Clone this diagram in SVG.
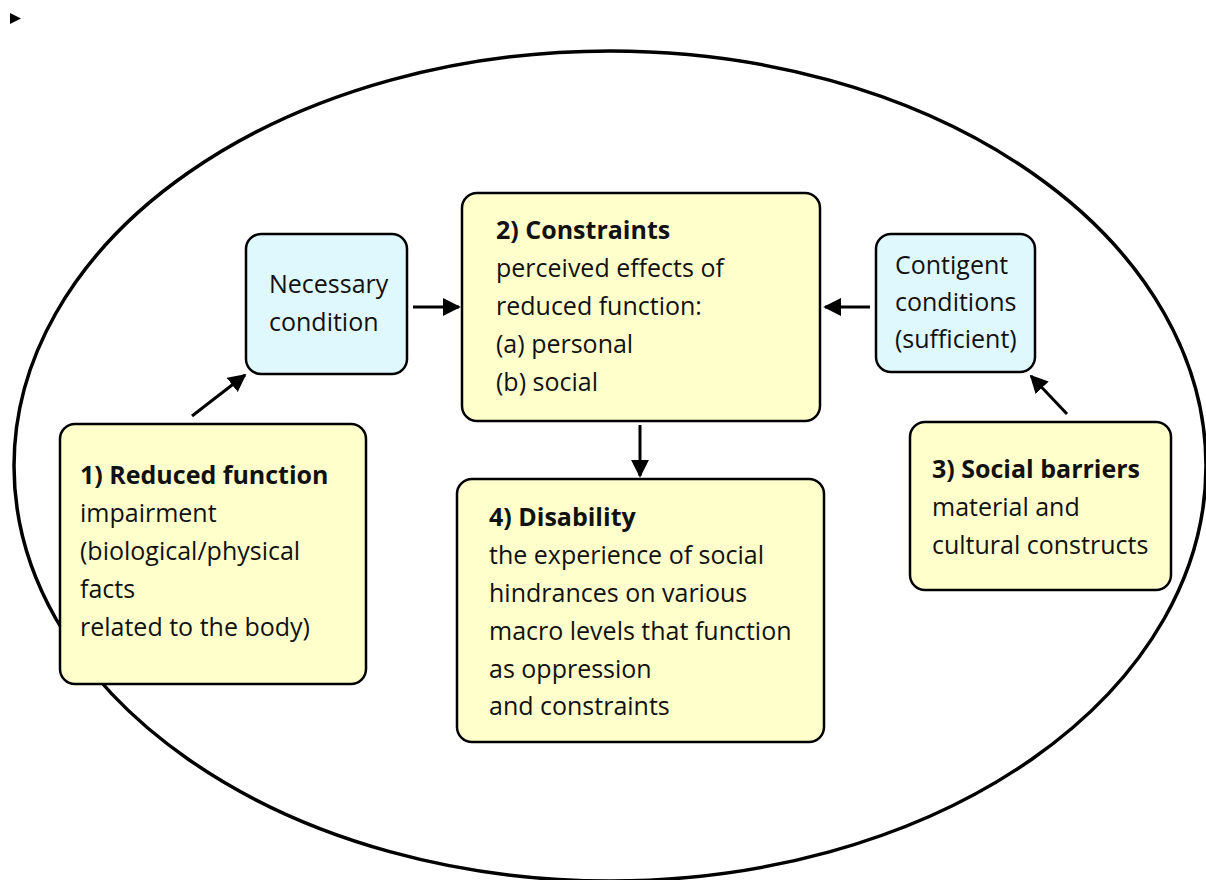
<svg xmlns="http://www.w3.org/2000/svg" width="1206" height="880" viewBox="0 0 1206 880">
<defs>
<style>
.t{font-family:"Open Sans","Noto Sans","DejaVu Sans",sans-serif;font-size:25px;fill:#111}
.b{font-weight:bold}
.y{fill:#ffffcc;stroke:#000;stroke-width:2.5}
.c{fill:#dff8fd;stroke:#000;stroke-width:2.5}
</style>
<marker id="ah" viewBox="0 0 10 10" refX="9" refY="5" markerWidth="6" markerHeight="6" markerUnits="strokeWidth" orient="auto">
<path d="M0,0 L10,5 L0,10 z" fill="#000"/>
</marker>
</defs>
<rect width="1206" height="880" fill="#fff"/>
<polygon points="10,13 10,24 21,18.5" fill="#000"/>
<ellipse cx="610" cy="466" rx="596" ry="415" fill="none" stroke="#000" stroke-width="3.5"/>
<g id="n-necessary">
<rect class="c" x="246" y="234" width="161" height="140" rx="15"/>
<text class="t" x="269" y="293">Necessary</text>
<text class="t" x="269" y="331">condition</text>
</g>
<g id="n-constraints">
<rect class="y" x="462" y="193" width="358" height="228" rx="15"/>
<text class="t b" x="496" y="239">2) Constraints</text>
<text class="t" x="496" y="277">perceived effects of</text>
<text class="t" x="496" y="315">reduced function:</text>
<text class="t" x="496" y="353">(a) personal</text>
<text class="t" x="496" y="391">(b) social</text>
</g>
<g id="n-contigent">
<rect class="c" x="876" y="234" width="159" height="138" rx="15"/>
<text class="t" x="895" y="274">Contigent</text>
<text class="t" x="895" y="311">conditions</text>
<text class="t" x="895" y="348">(sufficient)</text>
</g>
<g id="n-reduced">
<rect class="y" x="60" y="424" width="306" height="260" rx="15"/>
<text class="t b" x="80" y="484">1) Reduced function</text>
<text class="t" x="80" y="522">impairment</text>
<text class="t" x="80" y="560">(biological/physical</text>
<text class="t" x="80" y="598">facts</text>
<text class="t" x="80" y="636">related to the body)</text>
</g>
<g id="n-barriers">
<rect class="y" x="910" y="422" width="261" height="168" rx="15"/>
<text class="t b" x="932" y="478">3) Social barriers</text>
<text class="t" x="932" y="516">material and</text>
<text class="t" x="932" y="554">cultural constructs</text>
</g>
<g id="n-disability">
<rect class="y" x="457" y="479" width="367" height="263" rx="15"/>
<text class="t b" x="489" y="526">4) Disability</text>
<text class="t" x="489" y="564">the experience of social</text>
<text class="t" x="489" y="602">hindrances on various</text>
<text class="t" x="489" y="640">macro levels that function</text>
<text class="t" x="489" y="678">as oppression</text>
<text class="t" x="489" y="715">and constraints</text>
</g>
<g id="connectors" fill="none" stroke="#000" stroke-width="3">
<line x1="192" y1="416" x2="245" y2="375" marker-end="url(#ah)"/>
<line x1="413" y1="307" x2="459" y2="307" marker-end="url(#ah)"/>
<line x1="870" y1="307" x2="825" y2="307" marker-end="url(#ah)"/>
<line x1="640" y1="425" x2="640" y2="476" marker-end="url(#ah)"/>
<line x1="1067" y1="414" x2="1031" y2="376" marker-end="url(#ah)"/>
</g>
</svg>
